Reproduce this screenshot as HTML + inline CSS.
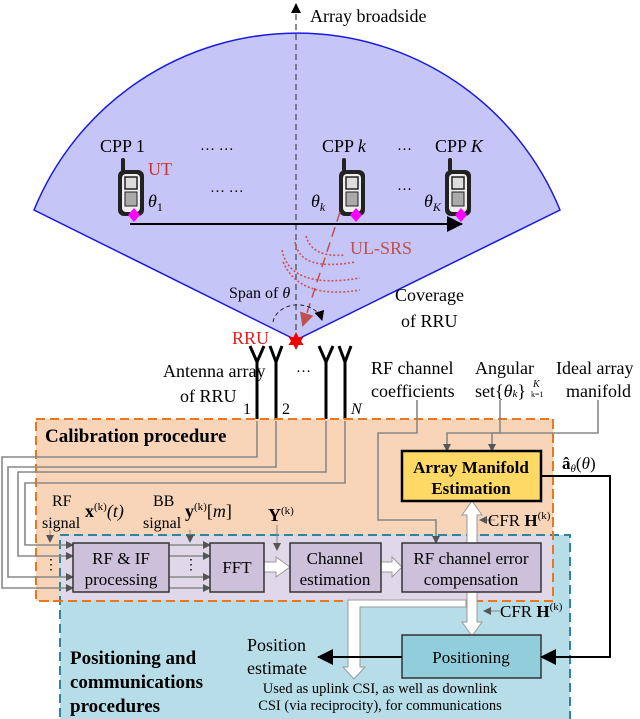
<!DOCTYPE html>
<html><head><meta charset="utf-8"><style>
html,body{margin:0;padding:0;background:#fff}
svg{display:block;font-family:"Liberation Serif",serif}
</style></head><body>
<svg width="640" height="719" viewBox="0 0 640 719" xmlns="http://www.w3.org/2000/svg">
<defs>
<marker id="ab" markerWidth="10" markerHeight="10" refX="9" refY="5" orient="auto" markerUnits="userSpaceOnUse"><path d="M0,0 L10,5 L0,10 z" fill="#000"/></marker>
<marker id="ag" markerWidth="8" markerHeight="8" refX="7" refY="4" orient="auto" markerUnits="userSpaceOnUse"><path d="M0,0 L8,4 L0,8 z" fill="#555"/></marker>
<marker id="abig" markerWidth="16" markerHeight="16" refX="15" refY="8" orient="auto" markerUnits="userSpaceOnUse"><path d="M0,0 L16,8 L0,16 z" fill="#000"/></marker>
<marker id="ar" markerWidth="14" markerHeight="14" refX="12" refY="7" orient="auto" markerUnits="userSpaceOnUse"><path d="M0,0 L14,7 L0,14 z" fill="#c0504d"/></marker>
<g id="phone">
<rect x="-13" y="-20" width="26" height="46" rx="6" fill="#222"/>
<rect x="-9" y="-16" width="18" height="38" rx="4" fill="#eee"/>
<rect x="-6" y="-13" width="12" height="12" fill="#ddd" stroke="#222" stroke-width="1.5"/>
<rect x="-6" y="2" width="12" height="14" fill="#aaa" stroke="#222" stroke-width="1"/>
<rect x="-10" y="-32" width="4" height="14" rx="2" fill="#222"/>
</g>
</defs>

<path d="M296,340 L34,210 A284,284 0 0 1 560,210 Z" fill="#c5c5f8" stroke="#1a1ae0" stroke-width="1.5"/>
<line x1="296" y1="340" x2="296" y2="4" stroke="#444" stroke-width="1.2" stroke-dasharray="6,4" marker-end="url(#ab)"/>
<text x="310" y="22" font-size="18">Array broadside</text>

<text x="100" y="152" font-size="18">CPP 1</text>
<text x="322" y="152" font-size="18">CPP <tspan font-style="italic">k</tspan></text>
<text x="435" y="152" font-size="18">CPP <tspan font-style="italic">K</tspan></text>
<text x="200" y="150" font-size="15">… …</text>
<text x="210" y="192" font-size="15">… …</text>
<text x="397" y="150" font-size="15">…</text>
<text x="397" y="190" font-size="15">…</text>
<text x="148" y="175" font-size="18" fill="#d03030">UT</text>

<use href="#phone" x="131" y="190"/>
<use href="#phone" x="352" y="190"/>
<use href="#phone" x="458" y="190"/>

<text x="148" y="207" font-size="18" font-style="italic">θ<tspan font-size="12" dy="4" font-style="normal">1</tspan></text>
<text x="311" y="207" font-size="18" font-style="italic">θ<tspan font-size="12" dy="4">k</tspan></text>
<text x="424" y="207" font-size="18" font-style="italic">θ<tspan font-size="12" dy="4">K</tspan></text>

<line x1="130" y1="224" x2="462" y2="224" stroke="#000" stroke-width="2" marker-end="url(#abig)"/>
<path d="M134,208 l6,7 l-6,7 l-6,-7z" fill="#f0f"/>
<path d="M356,208 l6,7 l-6,7 l-6,-7z" fill="#f0f"/>
<path d="M461,208 l6,7 l-6,7 l-6,-7z" fill="#f0f"/>

<g fill="none" stroke="#d05050" stroke-width="1.6" stroke-dasharray="2,2">
<path d="M306,236 Q312,258 345,255"/>
<path d="M295,242 Q300,272 355,262"/>
<path d="M282,250 Q290,290 360,278"/>
<path d="M283,262 Q300,300 360,290"/>
</g>
<line x1="340" y1="212" x2="303" y2="325" stroke="#c0504d" stroke-width="1.5" stroke-dasharray="10,6" marker-end="url(#ar)"/>
<text x="350" y="254" font-size="18" fill="#c0504d">UL-SRS</text>

<text x="229" y="298" font-size="16">Span of <tspan font-style="italic">θ</tspan></text>
<path d="M273,322 A25,20 0 0 1 322,320" fill="none" stroke="#222" stroke-width="1" stroke-dasharray="4,3" marker-end="url(#ab)"/>
<text x="395" y="301" font-size="18">Coverage</text>
<text x="401" y="327" font-size="18">of RRU</text>
<text x="232" y="344" font-size="18" fill="#e02020">RRU</text>
<path d="M296,332 l2.5,5 5,0 -2.5,4 2.5,4 -5,0 -2.5,5 -2.5,-5 -5,0 2.5,-4 -2.5,-4 5,0z" fill="#e00"/>

<g stroke="#000" stroke-width="3" fill="none">
<path d="M250,346 L257,362 L264,346 M257,362 V421"/>
<path d="M270,346 L276,362 L282,346 M276,362 V421"/>
<path d="M319,346 L326,362 L333,346 M326,362 V421"/>
<path d="M339,346 L345,362 L351,346 M345,362 V421"/>
</g>
<text x="296" y="372" font-size="15">…</text>
<text x="163" y="377" font-size="18">Antenna array</text>
<text x="180" y="402" font-size="18">of RRU</text>
<text x="243" y="414" font-size="16">1</text>
<text x="282" y="414" font-size="16">2</text>
<text x="351" y="414" font-size="16" font-style="italic">N</text>

<text x="371" y="374" font-size="18">RF channel</text>
<text x="371" y="397" font-size="18">coefficients</text>
<text x="475" y="374" font-size="18">Angular</text>
<text x="475" y="397" font-size="18">set{<tspan font-style="italic">θ<tspan font-size="11">k</tspan></tspan>}</text>
<text x="533" y="387" font-size="10" font-style="italic">K</text>
<text x="531" y="397" font-size="8">k=1</text>
<text x="556" y="374" font-size="18">Ideal array</text>
<text x="566" y="397" font-size="18">manifold</text>

<rect x="36" y="419" width="517" height="182" fill="#f8d5b8" stroke="#e87722" stroke-width="2" stroke-dasharray="9,5"/>
<rect x="60" y="535" width="510" height="190" fill="#b7dde8" stroke="#31849b" stroke-width="2" stroke-dasharray="9,5"/>
<rect x="61" y="536" width="491" height="64" fill="#e0d8e8"/>
<line x1="60" y1="535" x2="553" y2="535" stroke="#31849b" stroke-width="2" stroke-dasharray="9,5"/>
<path d="M553,419 V601 H36" fill="none" stroke="#e87722" stroke-width="2" stroke-dasharray="9,5"/>

<text x="45" y="442" font-size="19" font-weight="bold">Calibration procedure</text>
<text x="70" y="664" font-size="19" font-weight="bold">Positioning and</text>
<text x="70" y="688" font-size="19" font-weight="bold">communications</text>
<text x="70" y="712" font-size="19" font-weight="bold">procedures</text>

<g fill="none" stroke="#888" stroke-width="1.6">
<path d="M257,421 V457 H2 V588 H73" marker-end="url(#ag)"/>
<path d="M276,421 V467 H8 V577 H73" marker-end="url(#ag)"/>
<path d="M326,421 V472 H18 V556 H73" marker-end="url(#ag)"/>
<path d="M345,421 V483 H25 V545 H73" marker-end="url(#ag)"/>
<path d="M169,545 H210" marker-end="url(#ag)"/>
<path d="M169,556 H210" marker-end="url(#ag)"/>
<path d="M169,577 H210" marker-end="url(#ag)"/>
<path d="M169,588 H210" marker-end="url(#ag)"/>
<path d="M417,400 V433 H378 V520 H436 V543" marker-end="url(#ag)"/>
<path d="M500,400 V433 H447 V451" marker-end="url(#ag)"/>
<path d="M598,400 V433 H492 V451" marker-end="url(#ag)"/>
<path d="M50,530 V542" stroke-width="1" marker-end="url(#ag)"/>
<path d="M190,530 V542" stroke-width="1" marker-end="url(#ag)"/>
<path d="M277,525 V550" stroke-width="1" marker-end="url(#ag)"/>
<path d="M495,520 H480" stroke-width="1" marker-end="url(#ag)"/>
<path d="M500,611 H484" stroke-width="1" marker-end="url(#ag)"/>
</g>
<text x="44" y="569" font-size="14">⋮</text>
<text x="184" y="569" font-size="14">⋮</text>

<text x="52" y="506" font-size="16">RF</text>
<text x="42" y="528" font-size="16">signal</text>
<text x="85" y="517" font-size="18" font-weight="bold">x<tspan font-weight="normal" font-size="11" dy="-7">(k)</tspan><tspan font-weight="normal" dy="7" font-style="italic">(t)</tspan></text>
<text x="153" y="506" font-size="16">BB</text>
<text x="143" y="528" font-size="16">signal</text>
<text x="185" y="517" font-size="18" font-weight="bold">y<tspan font-weight="normal" font-size="11" dy="-7">(k)</tspan><tspan font-weight="normal" dy="7">[<tspan font-style="italic">m</tspan>]</tspan></text>
<text x="268" y="521" font-size="18" font-weight="bold">Y<tspan font-weight="normal" font-size="11" dy="-7">(k)</tspan></text>

<g fill="#fff" stroke="#999" stroke-width="1">
<path d="M264,562 H276 V557 L290,567 L276,577 V572 H264z"/>
<path d="M381,562 H392 V557 L402,567 L392,577 V572 H381z"/>
<path d="M467,543 V515 H462 L472,501 L482,515 H477 V543z"/>
<path d="M467,592 V622 H462 L472,636 L482,622 H477 V592z"/>
<path d="M466,600 V607 H360 V667 H365 L354,679 L343,667 H348 V600z"/>
</g>

<g stroke="#333" stroke-width="1.5" fill="#ccc0da">
<rect x="73" y="543" width="96" height="49"/>
<rect x="210" y="543" width="54" height="49"/>
<rect x="290" y="543" width="91" height="49"/>
<rect x="402" y="543" width="139" height="49"/>
</g>
<rect x="402" y="451" width="139" height="50" fill="#ffd966" stroke="#000" stroke-width="2.5"/>
<rect x="402" y="635" width="139" height="43" fill="#92cddc" stroke="#333" stroke-width="1.5"/>

<g font-size="17" text-anchor="middle">
<text x="121" y="564">RF &amp; IF</text>
<text x="121" y="585">processing</text>
<text x="237" y="573">FFT</text>
<text x="335" y="564">Channel</text>
<text x="335" y="585">estimation</text>
<text x="471" y="564">RF channel error</text>
<text x="471" y="585">compensation</text>
<text x="471" y="473" font-weight="bold">Array Manifold</text>
<text x="471" y="494" font-weight="bold">Estimation</text>
<text x="471" y="663">Positioning</text>
</g>

<text x="488" y="526" font-size="17">CFR <tspan font-weight="bold">H</tspan><tspan font-size="11" dy="-7">(k)</tspan></text>
<text x="500" y="617" font-size="17">CFR <tspan font-weight="bold">H</tspan><tspan font-size="11" dy="-7">(k)</tspan></text>
<text x="562" y="469" font-size="17"><tspan font-weight="bold">â</tspan><tspan font-size="11" dy="3" font-style="italic">θ</tspan><tspan dy="-3">(<tspan font-style="italic">θ</tspan>)</tspan></text>

<path d="M541,476 H610 V657 H541" fill="none" stroke="#000" stroke-width="2" marker-end="url(#abig)"/>
<path d="M402,657 H318" fill="none" stroke="#000" stroke-width="2" marker-end="url(#abig)"/>
<text x="247" y="651" font-size="18">Position</text>
<text x="247" y="674" font-size="18">estimate</text>
<text x="380" y="693" font-size="14.5" text-anchor="middle">Used as uplink CSI, as well as downlink</text>
<text x="380" y="710" font-size="14.5" text-anchor="middle">CSI (via reciprocity), for communications</text>
</svg>
</body></html>
